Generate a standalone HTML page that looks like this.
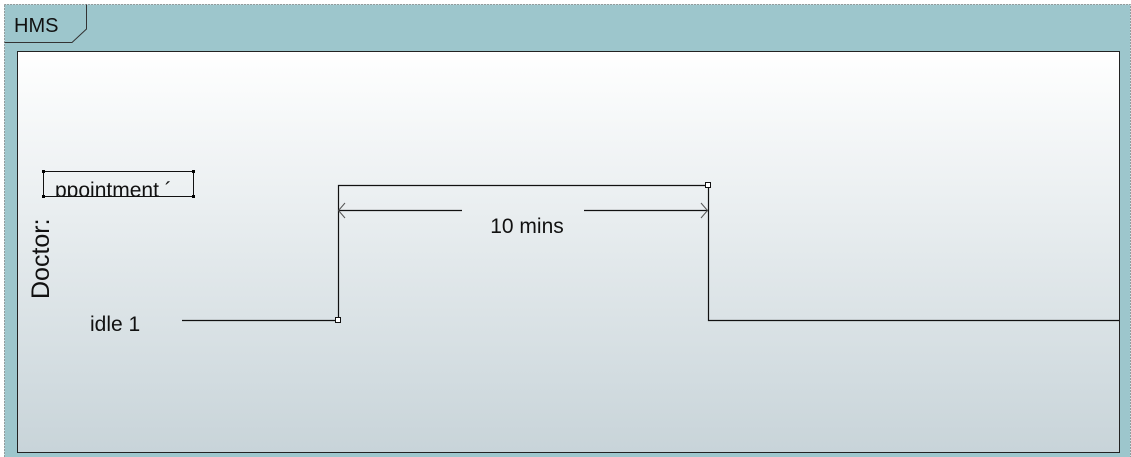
<!DOCTYPE html>
<html><head><meta charset="utf-8"><style>html,body{margin:0;padding:0;background:#fff}svg{display:block}</style></head>
<body>
<svg width="1131" height="457" viewBox="0 0 1131 457" xmlns="http://www.w3.org/2000/svg" font-family="'Liberation Sans', sans-serif">
<defs><linearGradient id="g" x1="0" y1="0" x2="0" y2="1"><stop offset="0" stop-color="#ffffff"/><stop offset="1" stop-color="#c8d4d9"/></linearGradient>
<clipPath id="c"><rect x="44" y="172" width="148" height="24"/></clipPath></defs>
<rect x="4.5" y="4.5" width="1126" height="453" fill="#9dc6cc" stroke="#555" stroke-dasharray="1,2"/>
<path d="M4.5 42.5 H72 L86.5 29 V4.5" fill="none" stroke="#333"/>
<text x="14" y="32" font-size="20" fill="#111">HMS</text>
<rect x="17.5" y="51.5" width="1102" height="401" fill="url(#g)" stroke="#222"/>
<text transform="translate(49,299) rotate(-90)" font-size="25" fill="#111">Doctor:</text>
<rect x="43.5" y="171.5" width="150" height="25" fill="none" stroke="#111"/>
<g fill="#000"><rect x="42" y="170" width="3" height="3"/><rect x="192" y="170" width="3" height="3"/><rect x="42" y="195" width="3" height="3"/><rect x="192" y="195" width="3" height="3"/></g>
<text x="55" y="197" font-size="21" fill="#111" clip-path="url(#c)">ppointment ´</text>
<text x="90" y="331" font-size="21" fill="#111">idle  1</text>
<path d="M182 320.5 H338.5 V185.5 H708.5 V320.5 H1119" fill="none" stroke="#111" stroke-width="1.2"/>
<path d="M338 210.5 H462 M584 210.5 H708" stroke="#111" stroke-width="1.2"/>
<path d="M345 203 L338.5 210.5 L345 218 M701 203 L707.5 210.5 L701 218" fill="none" stroke="#555"/>
<text x="527" y="233" font-size="21" fill="#111" text-anchor="middle">10 mins</text>
<rect x="335.5" y="317.5" width="5" height="5" fill="#fff" stroke="#111"/>
<rect x="705.5" y="182.5" width="5" height="5" fill="#fff" stroke="#111"/>
</svg>
</body></html>
